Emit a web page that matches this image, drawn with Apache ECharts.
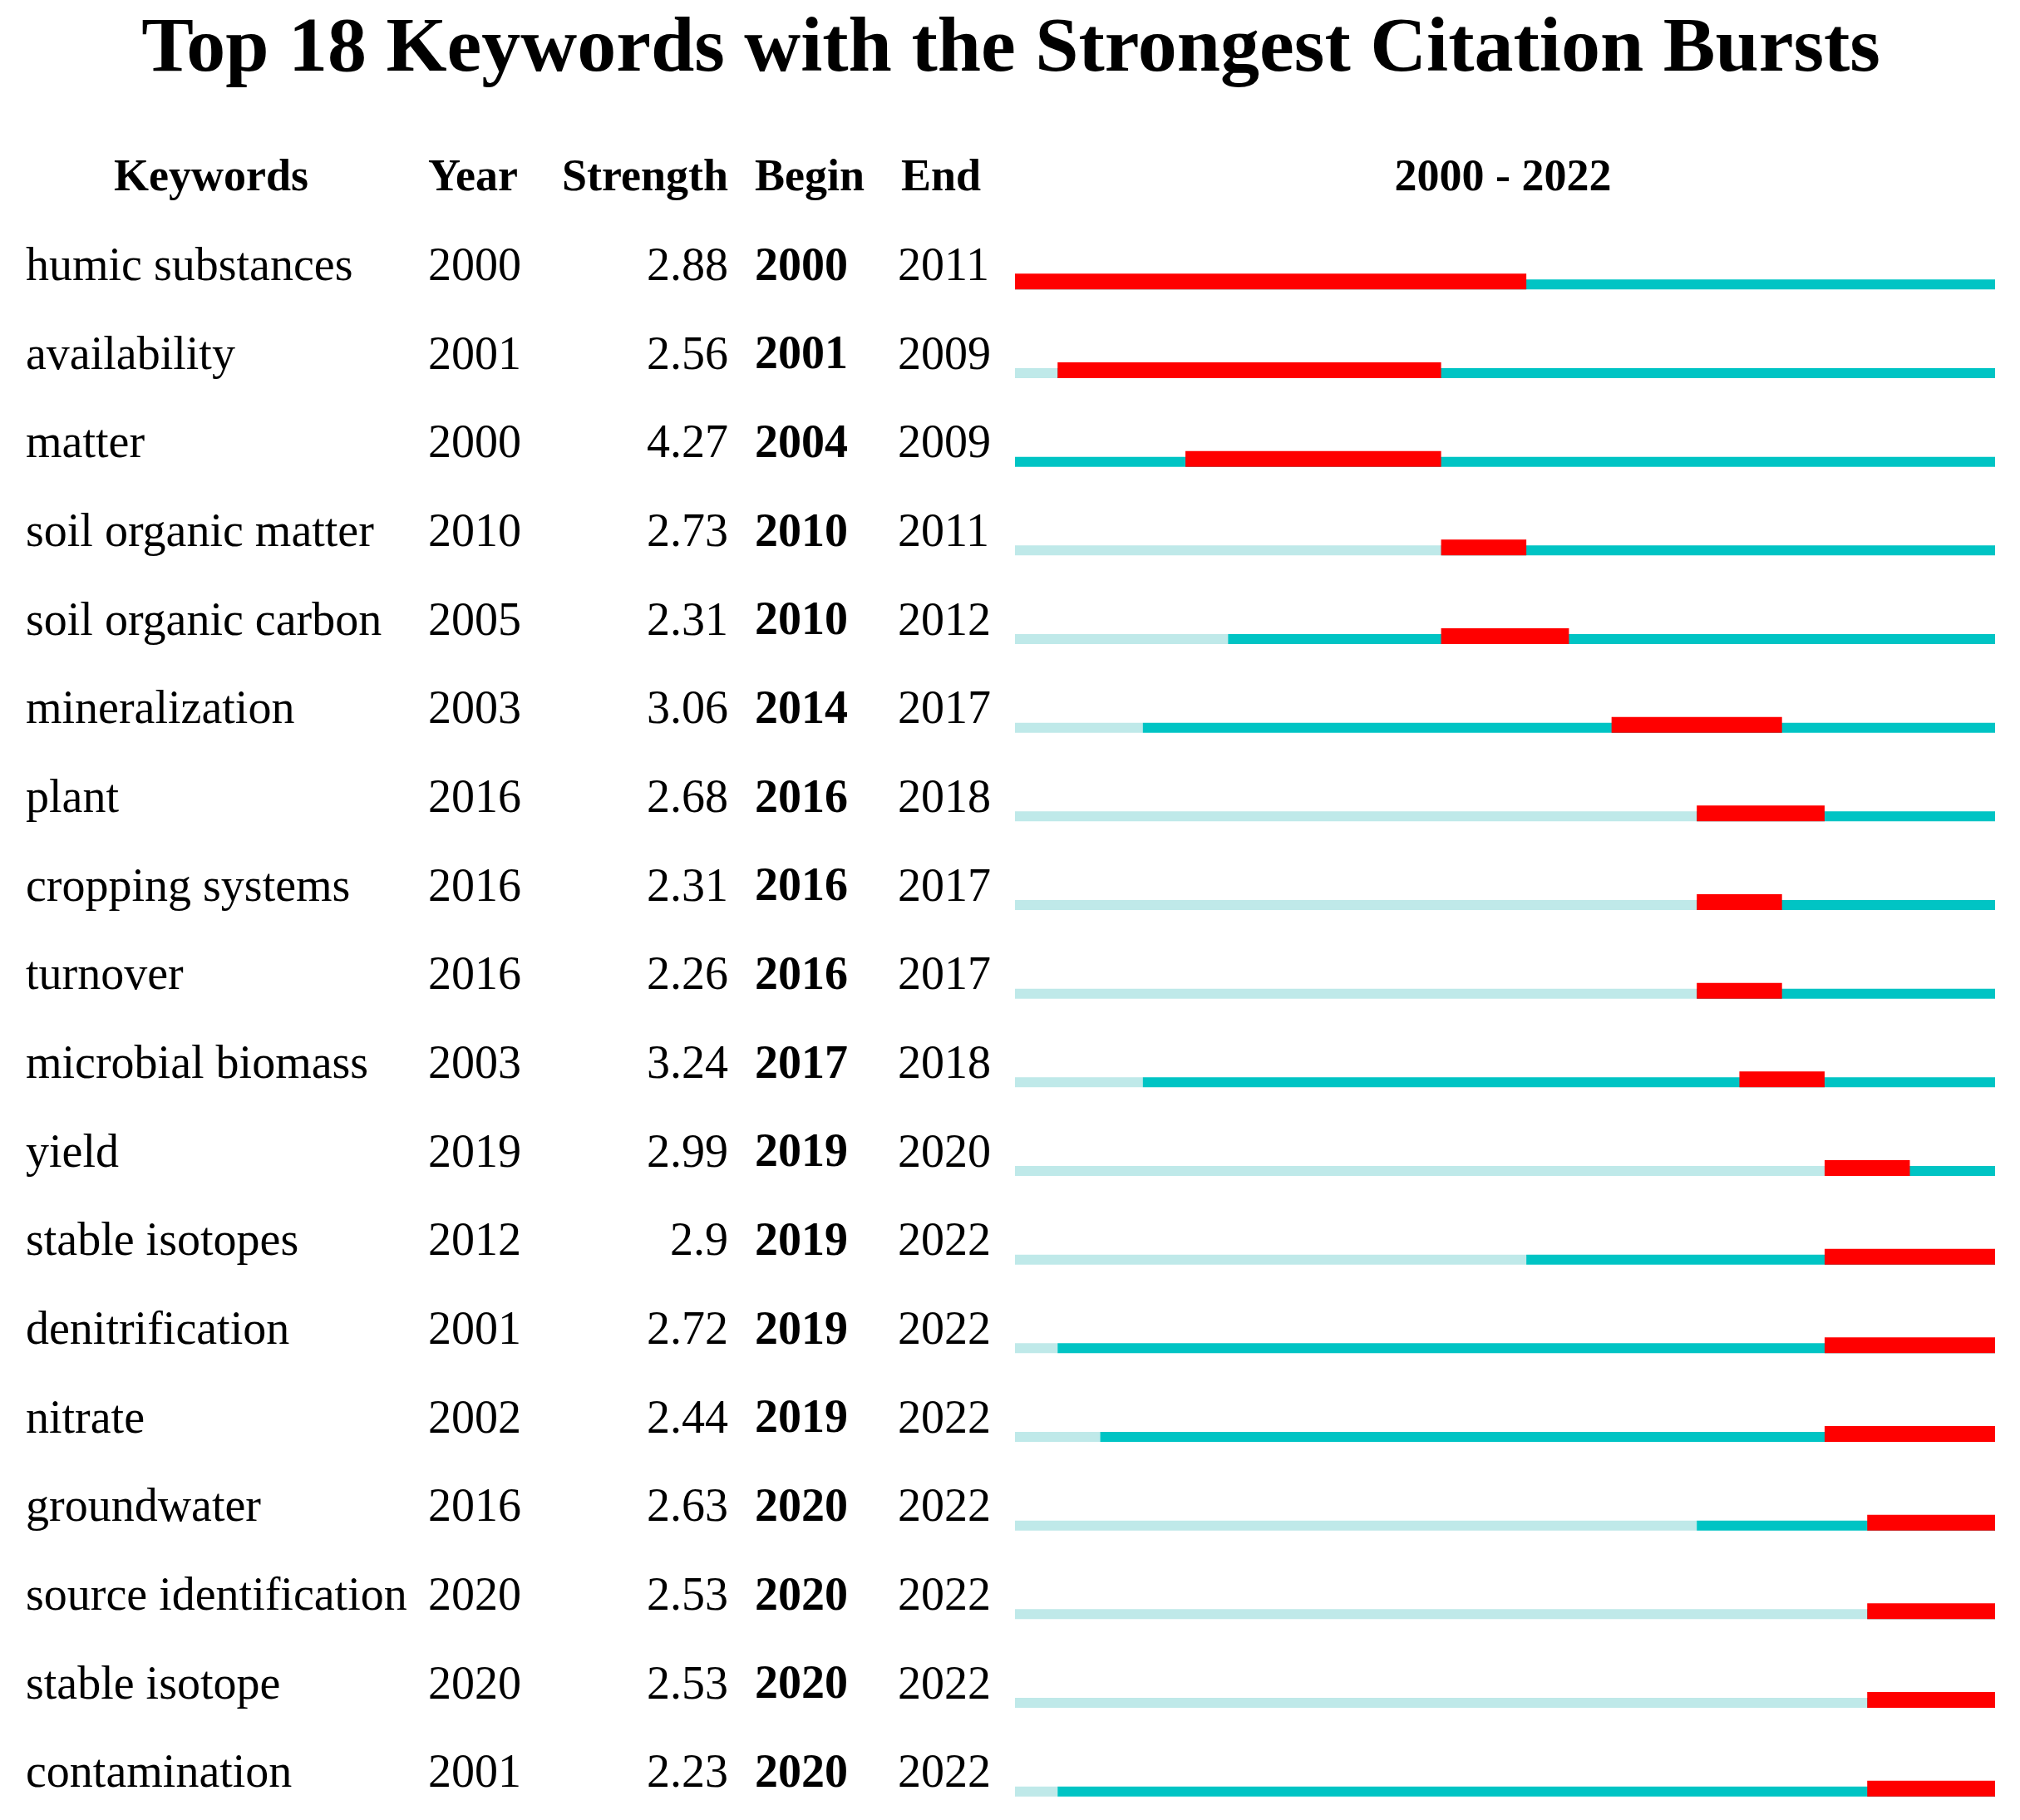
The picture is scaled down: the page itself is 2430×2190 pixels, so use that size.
<!DOCTYPE html>
<html>
<head>
<meta charset="utf-8">
<style>
html,body{margin:0;padding:0;background:#fff;}
#chart{width:2430px;height:2190px;}
</style>
<script src="https://cdn.jsdelivr.net/npm/echarts@6/dist/echarts.min.js"></script>
</head>
<body>
<div id="chart"></div>
<script>
const keywords = ['humic substances','availability','matter','soil organic matter','soil organic carbon','mineralization','plant','cropping systems','turnover','microbial biomass','yield','stable isotopes','denitrification','nitrate','groundwater','source identification','stable isotope','contamination'];
const firstYears = [2000,2001,2000,2010,2005,2003,2016,2016,2016,2003,2019,2012,2001,2002,2016,2020,2020,2001];
const strengths = [2.88,2.56,4.27,2.73,2.31,3.06,2.68,2.31,2.26,3.24,2.99,2.9,2.72,2.44,2.63,2.53,2.53,2.23];
const beginYears = [2000,2001,2004,2010,2010,2014,2016,2016,2016,2017,2019,2019,2019,2019,2020,2020,2020,2020];
const endYears = [2011,2009,2009,2011,2012,2017,2018,2017,2017,2018,2020,2022,2022,2022,2022,2022,2022,2022];
const rangeStart = 2000;
const rangeEnd = 2022;

const FONT = "'Liberation Serif','Times New Roman',serif";
const RED = '#ff0000', TEAL = '#00c4c4', LIGHT = '#bfe9e9';

const chart = echarts.init(document.getElementById('chart'));

function labelAxis(offset, align, arr, bold) {
  return {
    type: 'category', data: keywords, inverse: true, position: 'left', offset: offset,
    axisLine: {show: false}, axisTick: {show: false}, splitLine: {show: false},
    axisLabel: {
      show: true, interval: 0, margin: 0, align: align, color: '#000',
      fontFamily: FONT, fontSize: 56, fontWeight: bold ? 'bold' : 'normal',
      formatter: function (v, i) { return String(arr[i]); }
    }
  };
}

const rows = keywords.map(function (k, i) { return [i, firstYears[i], beginYears[i], endYears[i]]; });

function hdr(text, x, align) {
  return {type: 'text', x: x, y: 215, style: {text: text, fill: '#000', font: 'bold 54px ' + FONT, align: align, verticalAlign: 'middle'}};
}

chart.setOption({
  backgroundColor: '#fff',
  animation: false,
  grid: {left: 1221, right: 30, top: 269, bottom: 1, containLabel: false, outerBoundsMode: 'none'},
  xAxis: {type: 'value', min: rangeStart, max: rangeEnd + 1, show: false},
  yAxis: [
    labelAxis(1190, 'left', keywords, false),
    labelAxis(706, 'left', firstYears, false),
    labelAxis(345, 'right', strengths, false),
    labelAxis(313, 'left', beginYears, true),
    labelAxis(141, 'left', endYears, false)
  ],
  graphic: [
    {type: 'text', x: 1216, y: 61, style: {text: 'Top 18 Keywords with the Strongest Citation Bursts', fill: '#000', font: 'bold 94px ' + FONT, align: 'center', verticalAlign: 'middle'}},
    hdr('Keywords', 254, 'center'),
    hdr('Year', 515, 'left'),
    hdr('Strength', 876, 'right'),
    hdr('Begin', 908, 'left'),
    hdr('End', 1084, 'left'),
    hdr(rangeStart + ' - ' + rangeEnd, 1808, 'center')
  ],
  series: [{
    type: 'custom',
    xAxisIndex: 0, yAxisIndex: 0,
    data: rows,
    renderItem: function (params, api) {
      const r = api.value(0), fy = api.value(1), b = api.value(2), e = api.value(3);
      const p0 = api.coord([rangeStart, r]);
      const yc = p0[1];
      const x0 = p0[0];
      const xf = api.coord([fy, r])[0];
      const xb = api.coord([b, r])[0];
      const xe = api.coord([e + 1, r])[0];
      const x1 = api.coord([rangeEnd + 1, r])[0];
      const bottom = yc + 26;
      const children = [];
      if (xf > x0) children.push({type: 'rect', shape: {x: x0, y: bottom - 12, width: xf - x0, height: 12}, style: {fill: LIGHT}});
      children.push({type: 'rect', shape: {x: xf, y: bottom - 12, width: x1 - xf, height: 12}, style: {fill: TEAL}});
      children.push({type: 'rect', shape: {x: xb, y: bottom - 19, width: xe - xb, height: 19}, style: {fill: RED}});
      return {type: 'group', children: children};
    }
  }]
});
</script>
</body>
</html>
